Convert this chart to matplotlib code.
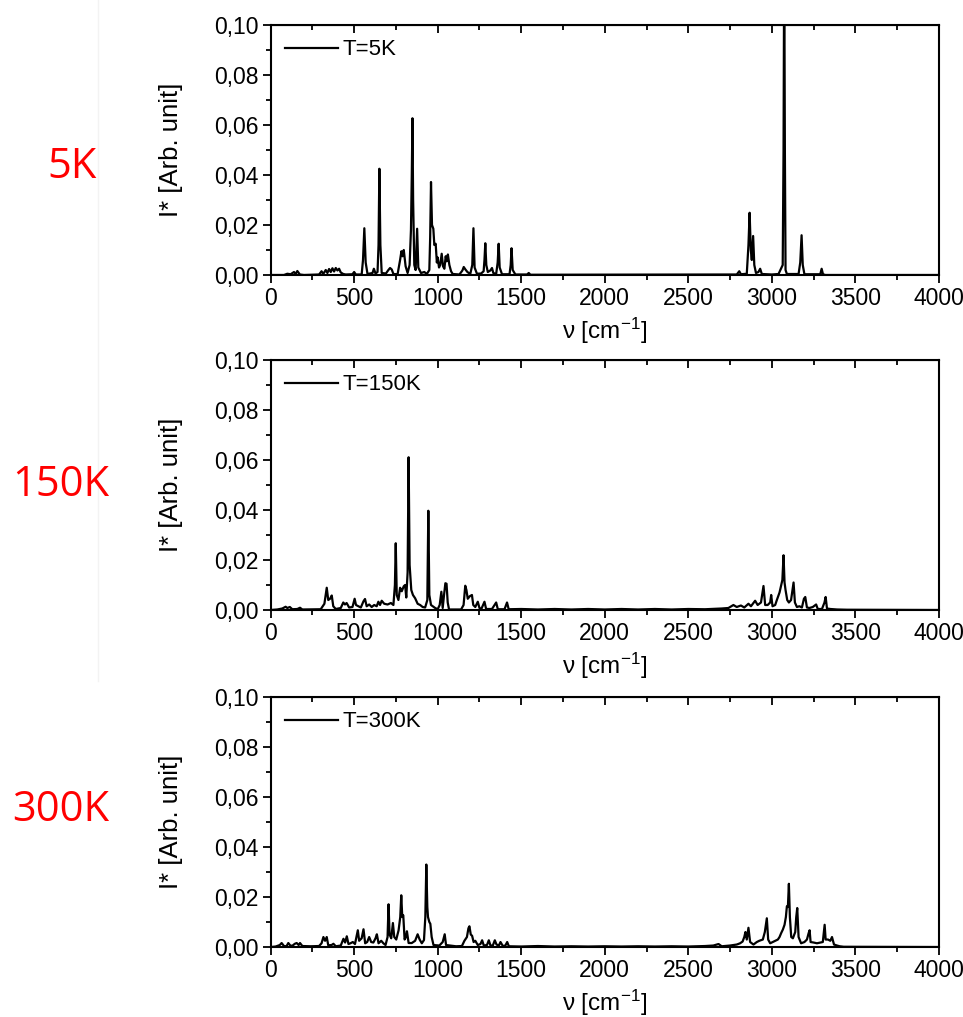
import matplotlib.pyplot as plt
from matplotlib.ticker import MultipleLocator, FuncFormatter
from matplotlib.lines import Line2D

plt.rcParams['font.family'] = ['Liberation Sans', 'DejaVu Sans']
plt.rcParams['mathtext.default'] = 'regular'

# spectra: (wavenumber cm-1, intensity)
spec_5K = [
    (0, 0), (80, 0), (100, 0.0005), (120, 0.0003), (140, 0.0012), (150, 0.0004),
    (160, 0.0016), (175, 0.0002), (200, 0), (290, 0.0002), (305, 0.0015),
    (315, 0.0004), (330, 0.0020), (340, 0.0008), (350, 0.0024), (360, 0.0012),
    (370, 0.0027), (380, 0.0014), (390, 0.0028), (400, 0.0018), (410, 0.0025),
    (420, 0.0010), (435, 0.0004), (450, 0.0002), (490, 0.0003), (500, 0.0012),
    (510, 0.0002), (545, 0.0002), (553, 0.006), (561, 0.0187), (569, 0.005),
    (580, 0.0004), (610, 0.0008), (618, 0.0025), (628, 0.0006), (640, 0.0012),
    (646, 0.012), (651, 0.0425), (657, 0.012), (665, 0.0008), (690, 0.0006),
    (705, 0.0020), (715, 0.0028), (725, 0.0022), (735, 0.0004), (760, 0.0003),
    (775, 0.006), (783, 0.0095), (790, 0.0075), (797, 0.0100), (808, 0.0035),
    (820, 0.0008), (832, 0.004), (840, 0.018), (845, 0.040), (849, 0.0627),
    (853, 0.030), (860, 0.004), (868, 0.002), (877, 0.0185), (884, 0.003),
    (900, 0.0008), (920, 0.0012), (935, 0.0004), (950, 0.002), (955, 0.015),
    (960, 0.0372), (966, 0.020), (974, 0.0185), (980, 0.012), (988, 0.0125),
    (995, 0.005), (1000, 0.007), (1008, 0.003), (1015, 0.004), (1024, 0.0085),
    (1032, 0.0035), (1040, 0.0025), (1048, 0.0075), (1054, 0.0055), (1061, 0.0082),
    (1070, 0.004), (1080, 0.0015), (1090, 0.0004), (1130, 0.0002), (1148, 0.0018),
    (1156, 0.0032), (1166, 0.0022), (1178, 0.0012), (1195, 0.0004), (1207, 0.004),
    (1214, 0.0187), (1221, 0.003), (1235, 0.0005), (1260, 0.0006), (1275, 0.0015),
    (1280, 0.0060), (1285, 0.0127), (1291, 0.004), (1300, 0.0012), (1315, 0.0018),
    (1325, 0.0028), (1333, 0.0008), (1350, 0.0004), (1359, 0.005), (1365, 0.0125),
    (1371, 0.003), (1385, 0.0003), (1430, 0.0003), (1437, 0.004), (1442, 0.0107),
    (1449, 0.002), (1465, 0.0002), (1535, 0.0002), (1545, 0.0008), (1555, 0.0001),
    (2790, 0.0002), (2805, 0.0015), (2815, 0.0003), (2850, 0.0005), (2860, 0.012),
    (2867, 0.0249), (2874, 0.010), (2880, 0.006), (2888, 0.0156), (2895, 0.004),
    (2905, 0.0008), (2920, 0.0012), (2930, 0.0025), (2940, 0.0004), (3000, 0.0002),
    (3040, 0.0004), (3055, 0.0025), (3065, 0.004), (3070, 0.05), (3074, 0.13),
    (3078, 0.05), (3082, 0.002), (3090, 0.0004), (3160, 0.0004), (3170, 0.005),
    (3178, 0.0159), (3185, 0.004), (3195, 0.0003), (3290, 0.0003), (3298, 0.0025),
    (3306, 0.0003), (3320, 0), (4000, 0),
]

spec_150K = [
    (0, 0), (40, 0.0002), (70, 0.0006), (90, 0.0013), (100, 0.0008), (115, 0.0012),
    (130, 0.0003), (160, 0.0004), (176, 0.0009), (190, 0.0002), (300, 0.0003),
    (322, 0.0025), (336, 0.0089), (345, 0.004), (356, 0.0045), (366, 0.0058),
    (375, 0.0015), (390, 0.0004), (420, 0.0008), (435, 0.003), (445, 0.0022),
    (455, 0.0028), (470, 0.001), (490, 0.0012), (503, 0.0045), (511, 0.002),
    (525, 0.0015), (540, 0.001), (556, 0.0035), (565, 0.0044), (575, 0.0015),
    (590, 0.0022), (605, 0.0012), (620, 0.002), (635, 0.0015), (645, 0.0033),
    (655, 0.002), (665, 0.0037), (680, 0.0025), (700, 0.0022), (720, 0.0028),
    (735, 0.002), (744, 0.010), (749, 0.0267), (755, 0.006), (765, 0.004),
    (775, 0.0089), (785, 0.0075), (797, 0.0095), (805, 0.010), (812, 0.005),
    (820, 0.015), (826, 0.0611), (832, 0.018), (842, 0.008), (852, 0.006),
    (865, 0.0047), (880, 0.0025), (895, 0.002), (910, 0.0012), (925, 0.001),
    (938, 0.004), (944, 0.0397), (950, 0.006), (960, 0.002), (985, 0.0008),
    (1000, 0.0003), (1012, 0.002), (1022, 0.0073), (1030, 0.0008), (1038, 0.006),
    (1046, 0.0107), (1053, 0.0105), (1060, 0.003), (1068, 0.0002), (1140, 0.0002),
    (1155, 0.002), (1165, 0.0097), (1172, 0.008), (1180, 0.0045), (1192, 0.0055),
    (1205, 0.006), (1213, 0.002), (1225, 0.0012), (1240, 0.0033), (1250, 0.0008),
    (1262, 0.0005), (1280, 0.0033), (1290, 0.0004), (1325, 0.0004), (1350, 0.003),
    (1360, 0.0003), (1400, 0.0003), (1415, 0.003), (1425, 0.0003), (1500, 0.0004),
    (1600, 0.0002), (1700, 0.0004), (1800, 0.0002), (1900, 0.0004), (2000, 0.0002),
    (2100, 0.0004), (2200, 0.0002), (2300, 0.0004), (2400, 0.0002), (2500, 0.0004),
    (2600, 0.0003), (2700, 0.0006), (2740, 0.0008), (2770, 0.0020), (2790, 0.0012),
    (2815, 0.0018), (2835, 0.001), (2860, 0.0025), (2875, 0.0015), (2900, 0.0037),
    (2915, 0.002), (2935, 0.003), (2950, 0.0096), (2960, 0.002), (2975, 0.002),
    (2990, 0.003), (2996, 0.006), (3004, 0.0015), (3020, 0.002), (3030, 0.004),
    (3046, 0.007), (3056, 0.010), (3063, 0.012), (3070, 0.0219), (3076, 0.011),
    (3082, 0.008), (3092, 0.004), (3102, 0.003), (3115, 0.004), (3125, 0.0085),
    (3130, 0.011), (3138, 0.003), (3150, 0.0012), (3165, 0.0015), (3180, 0.001),
    (3192, 0.0045), (3200, 0.0052), (3210, 0.001), (3225, 0.0008), (3245, 0.0012),
    (3265, 0.0022), (3275, 0.0004), (3300, 0.0004), (3315, 0.003), (3322, 0.0052),
    (3330, 0.0006), (3350, 0.0004), (3390, 0.0002), (3450, 0.0001), (4000, 0),
]

spec_300K = [
    (0, 0), (30, 0.0002), (55, 0.0008), (66, 0.0016), (80, 0.0004), (95, 0.0003),
    (106, 0.0016), (118, 0.0006), (130, 0.0005), (145, 0.0013), (156, 0.0016),
    (168, 0.0008), (176, 0.0016), (190, 0.0004), (240, 0.0003), (290, 0.0004),
    (305, 0.0015), (316, 0.004), (326, 0.0025), (336, 0.004), (345, 0.0007),
    (365, 0.0008), (376, 0.0013), (390, 0.0003), (420, 0.0006), (436, 0.0033),
    (446, 0.0018), (456, 0.0043), (466, 0.0012), (478, 0.0015), (492, 0.002),
    (505, 0.0012), (515, 0.0045), (522, 0.0067), (530, 0.0025), (545, 0.0035),
    (556, 0.0071), (566, 0.0015), (578, 0.002), (590, 0.004), (602, 0.002),
    (615, 0.0018), (628, 0.0035), (636, 0.0051), (646, 0.0015), (662, 0.0025),
    (675, 0.0015), (688, 0.0008), (700, 0.004), (706, 0.0171), (712, 0.005),
    (722, 0.0035), (732, 0.0096), (740, 0.004), (752, 0.003), (766, 0.0067),
    (776, 0.012), (782, 0.0207), (788, 0.012), (794, 0.0127), (802, 0.003),
    (810, 0.004), (816, 0.0063), (826, 0.0016), (845, 0.0016), (865, 0.0025),
    (880, 0.0051), (892, 0.003), (905, 0.0015), (918, 0.0028), (926, 0.012),
    (932, 0.033), (938, 0.016), (942, 0.012), (950, 0.010), (956, 0.0093),
    (964, 0.004), (975, 0.0008), (1010, 0.0006), (1030, 0.002), (1042, 0.0051),
    (1050, 0.0008), (1110, 0.0003), (1145, 0.0004), (1160, 0.0025), (1175, 0.004),
    (1184, 0.0075), (1190, 0.0083), (1198, 0.005), (1206, 0.0045), (1215, 0.002),
    (1225, 0.0025), (1240, 0.0008), (1256, 0.0012), (1266, 0.0027), (1276, 0.0006),
    (1295, 0.0008), (1306, 0.0027), (1316, 0.0006), (1330, 0.0006), (1342, 0.0027),
    (1352, 0.001), (1366, 0.0006), (1376, 0.002), (1390, 0.0004), (1405, 0.0006),
    (1416, 0.002), (1426, 0.0003), (1500, 0.0002), (1600, 0.0004), (1700, 0.0002),
    (1800, 0.0003), (1900, 0.0002), (2000, 0.0003), (2100, 0.0002), (2200, 0.0003),
    (2300, 0.0002), (2400, 0.0003), (2500, 0.0002), (2600, 0.0004), (2650, 0.0006),
    (2681, 0.0012), (2700, 0.0003), (2750, 0.0006), (2790, 0.001), (2810, 0.0015),
    (2825, 0.0022), (2835, 0.004), (2842, 0.006), (2850, 0.003), (2860, 0.0077),
    (2870, 0.002), (2890, 0.001), (2910, 0.002), (2925, 0.0025), (2946, 0.003),
    (2958, 0.006), (2970, 0.0115), (2978, 0.003), (2990, 0.0015), (3005, 0.002),
    (3020, 0.0025), (3036, 0.003), (3046, 0.004), (3056, 0.0056), (3066, 0.007),
    (3076, 0.0089), (3084, 0.012), (3090, 0.0163), (3096, 0.016), (3102, 0.0253),
    (3108, 0.012), (3116, 0.004), (3126, 0.0035), (3140, 0.006), (3146, 0.012),
    (3152, 0.0156), (3160, 0.004), (3175, 0.0015), (3195, 0.002), (3210, 0.003),
    (3220, 0.0055), (3226, 0.0067), (3232, 0.002), (3250, 0.0018), (3270, 0.0015),
    (3290, 0.0018), (3305, 0.002), (3312, 0.0065), (3316, 0.0089), (3322, 0.003),
    (3336, 0.003), (3350, 0.0025), (3360, 0.004), (3372, 0.001), (3390, 0.0006),
    (3406, 0.0003), (3430, 0.0001), (4000, 0),
]

spectra = [spec_5K, spec_150K, spec_300K]
legend_labels = ["T=5K", "T=150K", "T=300K"]
side_labels = ["5K", "150K", "300K"]

fig = plt.figure(figsize=(9.63, 10.17), dpi=100)

# faint crop edge from the original collage
fig.add_artist(Line2D([0.102, 0.102], [0.33, 1.0], color='#f3f3f3', lw=1))

bottoms = [0.7296, 0.4002, 0.0688]
label_x = [0.0748, 0.0633, 0.0633]
label_y = [0.836, 0.523, 0.204]

for spec, lab, side, b, lx, ly in zip(spectra, legend_labels, side_labels, bottoms, label_x, label_y):
    ax = fig.add_axes([0.281, b, 0.694, 0.2458])
    xs = [p[0] for p in spec]
    ys = [p[1] for p in spec]
    ax.plot(xs, ys, color='black', lw=1.6, label=lab)

    ax.set_xlim(0, 4000)
    ax.set_ylim(0, 0.10)
    ax.xaxis.set_major_locator(MultipleLocator(500))
    ax.xaxis.set_minor_locator(MultipleLocator(250))
    ax.yaxis.set_major_locator(MultipleLocator(0.02))
    ax.yaxis.set_minor_locator(MultipleLocator(0.01))
    ax.yaxis.set_major_formatter(FuncFormatter(lambda v, p: f"{v:.2f}".replace('.', ',')))
    ax.tick_params(which='both', direction='out', labelsize=16.5, width=1.3,
                   top=False, right=False, pad=2.5)
    ax.tick_params(which='major', length=6)
    ax.tick_params(which='minor', length=3.5)
    for s in ax.spines.values():
        s.set_linewidth(1.5)

    top = ax.secondary_xaxis('top')
    top.xaxis.set_major_locator(MultipleLocator(500))
    top.xaxis.set_minor_locator(MultipleLocator(250))
    top.tick_params(which='both', direction='in', labeltop=False, width=1.3)
    top.tick_params(which='major', length=6)
    top.tick_params(which='minor', length=3.5)

    ax.set_ylabel("I* [Arb. unit]", fontsize=18.5)
    ax.yaxis.set_label_coords(-0.131, 0.5)
    ax.set_xlabel(r"ν [cm$^{-1}$]", fontsize=17.5)
    ax.xaxis.set_label_coords(0.5, -0.165)

    ax.legend(loc='upper left', frameon=False, fontsize=16, handlelength=2.4,
              handletextpad=0.2, borderaxespad=0.45, borderpad=0.2)

    fig.text(lx, ly, side, color='red', fontsize=30, family=['Open Sans', 'DejaVu Sans'],
             ha='center', va='center')

plt.savefig("out.png", dpi=100)
